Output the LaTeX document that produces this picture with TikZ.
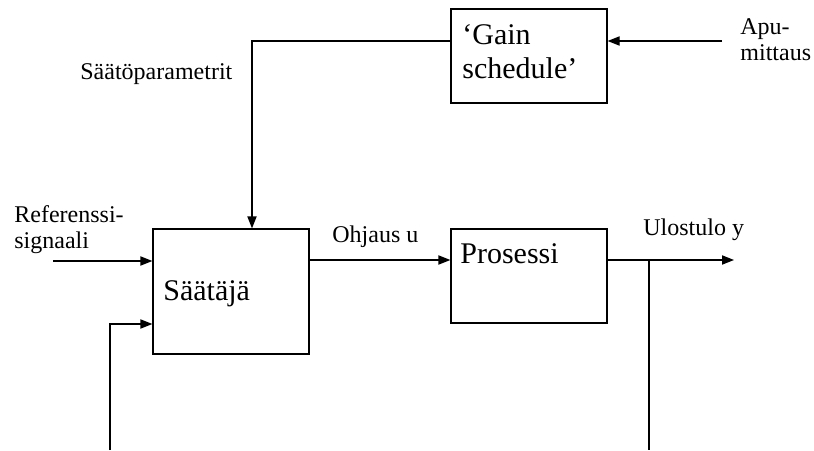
\documentclass[tikz,border=0pt]{standalone}
\usepackage{fontspec}
\setmainfont{Liberation Serif}
\usetikzlibrary{arrows.meta}

\tikzset{
  block/.style={draw, line width=0.6pt, inner sep=0pt},
  sig/.style={-{Triangle[length=6pt,width=4.6pt]}, line width=0.6pt},
  wire/.style={line width=0.6pt},
  lbl/.style={anchor=base west, inner sep=0pt, align=left,
    font=\fontsize{12}{13}\selectfont},
  blbl/.style={anchor=base west, inner sep=0pt, align=left,
    font=\fontsize{15}{17}\selectfont}
}

\begin{document}
\begin{tikzpicture}[x=0.5pt,y=-0.5pt]
      \useasboundingbox (0,0) rectangle (814,450);
      % blocks
      \node[block, minimum width=78pt, minimum height=47pt] (gain) at (529,56) {};
      \node[block, minimum width=78pt, minimum height=62.5pt] (ctrl) at (231,291.5) {};
      \node[block, minimum width=78pt, minimum height=47pt] (proc) at (529,276) {};
      % texts in the blocks (base = last line)
      \node[blbl] (gaintxt) at (462,78) {`Gain\\schedule'};
      \node[blbl] (ctrltxt) at (163,300) {Säätäjä};
      \node[blbl] (proctxt) at (460,263) {Prosessi};
      % labels
      \node[lbl] (param) at (80,79) {Säätöparametrit};
      \node[lbl] (reftxt) at (14,248) {Referenssi-\\signaali};
      \node[lbl] (utxt) at (332,242) {Ohjaus u};
      \node[lbl] (ytxt) at (643,235) {Ulostulo y};
      \node[lbl] (aputxt) at (740,60) {Apu-\\mittaus};
      % free ends
      \coordinate (knee) at (252,41);
      \coordinate (apu) at (722,41);
      \coordinate (ref) at (53,261);
      \coordinate (fb) at (110,450);
      \coordinate (fbk) at (110,324);
      \coordinate (uy) at (0,260);
      \coordinate (yout) at (734,260);
      \coordinate (ybr) at (649,260);
      \coordinate (ybot) at (649,450);
      % connectors
      \draw[sig] (gain.west |- knee) -- (knee) -- (knee |- ctrl.north);
      \draw[sig] (apu) -- (apu -| gain.east);
      \draw[sig] (ref) -- (ref -| ctrl.west);
      \draw[sig] (fb) -- (fbk) -- (fbk -| ctrl.west);
      \draw[sig] (ctrl.east |- uy) -- (proc.west |- uy);
      \draw[sig] (proc.east |- uy) -- (yout);
      \draw[wire] (ybr) -- (ybot);
    \end{tikzpicture}
\end{document}
